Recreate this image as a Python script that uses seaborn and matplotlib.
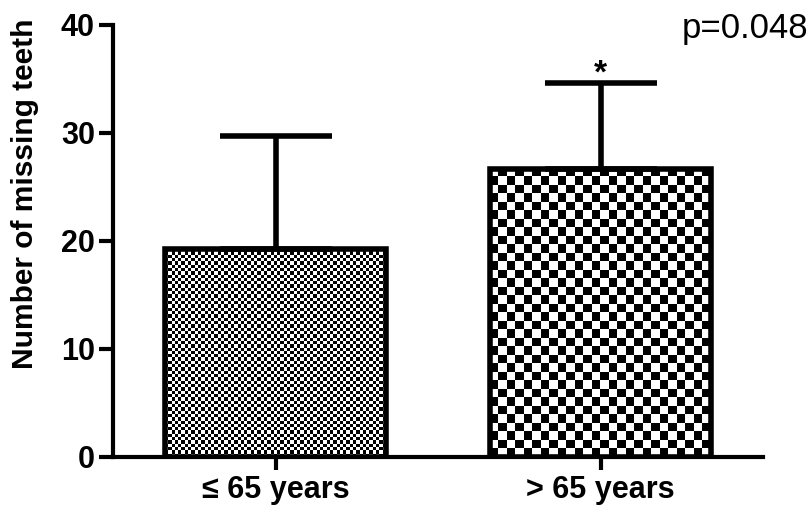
import numpy as np
import matplotlib
matplotlib.use("Agg")
import matplotlib.pyplot as plt
import seaborn as sns

# Missing teeth by age group: mean and standard deviation
groups = ["\u2264 65 years", "> 65 years"]
means = [19.3, 26.7]
sds = [10.4, 7.9]
p_text = "p=0.048"
y_ticks = [0, 10, 20, 30, 40]
y_label = "Number of missing teeth"

sns.set_theme(style="white")
plt.rcParams["font.family"] = ["Liberation Sans", "DejaVu Sans"]

fig = plt.figure(figsize=(8.11, 5.13), dpi=100)
ax = fig.add_axes([113 / 811, 1 - 457 / 513, 650 / 811, 432 / 513])

sns.barplot(x=groups, y=means, color="white", width=0.68, errorbar=None,
            edgecolor="black", linewidth=4, ax=ax, zorder=3)

ax.set_xlim(-0.5, 1.5)
ax.set_ylim(0, 40)
fig.canvas.draw()

# checkerboard fill, one square size per bar (pixels)
square_px = [3.3, 8.6]
for patch, sq in zip(ax.patches, square_px):
    patch.set_facecolor("none")
    patch.set_joinstyle("miter")
    x0, y0 = patch.get_x(), patch.get_y()
    x1, y1 = x0 + patch.get_width(), y0 + patch.get_height()
    (px0, py0), (px1, py1) = ax.transData.transform([(x0, y0), (x1, y1)])
    ncols = max(1, int(round(abs(px1 - px0) / sq)))
    nrows = max(1, int(round(abs(py1 - py0) / sq)))
    ii, jj = np.indices((nrows, ncols))
    board = (ii + jj) % 2
    im = ax.imshow(board, cmap="gray_r", vmin=0, vmax=1, extent=(x0, x1, y0, y1),
                   origin="upper", interpolation="nearest", aspect="auto", zorder=2)
    im.set_clip_path(patch)

# upward-only error bars
xpos = np.arange(len(means))
ax.errorbar(xpos, means, yerr=[np.zeros(len(sds)), sds], fmt="none",
            ecolor="black", elinewidth=4, capsize=40, capthick=4, zorder=4)

ax.set_xlim(-0.5, 1.5)
ax.set_ylim(0, 40)
ax.set_yticks(y_ticks)

for side in ("top", "right"):
    ax.spines[side].set_visible(False)
for side in ("left", "bottom"):
    ax.spines[side].set_linewidth(3)
    ax.spines[side].set_color("black")
    ax.spines[side].set_zorder(5)

ax.tick_params(axis="y", direction="out", length=10, width=3, pad=3,
               labelsize=22, left=True, colors="black")
ax.tick_params(axis="x", direction="out", length=9, width=3, pad=4,
               labelsize=22, bottom=True, colors="black")
for lab in ax.get_xticklabels() + ax.get_yticklabels():
    lab.set_fontweight("bold")

ax.set_xlabel("")
ax.set_ylabel(y_label, fontsize=21.5, fontweight="bold", color="black")
ax.yaxis.set_label_coords(-0.114, 0.61)

# significance marker and p-value
ax.text(1, means[1] + sds[1] + 0.1, "*", ha="center", va="baseline",
        fontsize=24, fontweight="bold", color="black")
fig.text(808 / 811, 1 - 38 / 513, p_text, ha="right", va="baseline",
         fontsize=25, color="black")

fig.savefig("out.png", dpi=100)
